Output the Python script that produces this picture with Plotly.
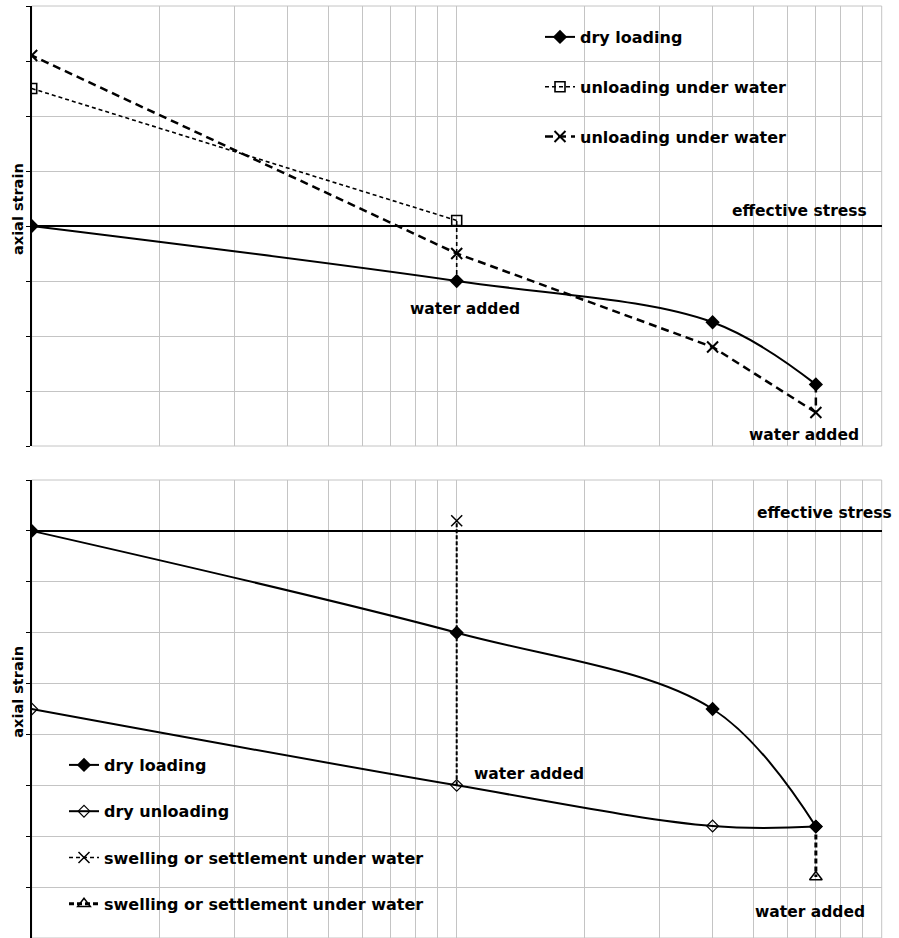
import plotly.graph_objects as go

# ---- data -------------------------------------------------------------
stress = [1, 10, 40, 70]

# upper panel
top_dry_loading = [0.0, -1.0, -1.75, -2.88]
top_sq_stress = [10, 1]
top_sq_strain = [0.1, 2.5]
top_x_stress = [70, 40, 10, 1]
top_x_strain = [-3.39, -2.2, -0.5, 3.1]

# lower panel
bot_dry_loading = [0.0, -2.0, -3.5, -5.81]
bot_unload_stress = [70, 40, 10, 1]
bot_dry_unloading = [-5.81, -5.8, -5.0, -3.5]
bot_swell_x_stress = [10]
bot_swell_x_strain = [0.2]
bot_swell_tri_stress = [70]
bot_swell_tri_strain = [-6.8]

x_grid = [1, 2, 3, 4, 5, 6, 7, 8, 9, 10, 20, 30, 40, 50, 60, 70, 80, 90, 100]

W, H = 899, 938
FONT = "DejaVu Sans"
GRID = "#c4c4c4"


def px_x(p):
    return p / W


def px_y(p):
    return 1 - p / H


fig = go.Figure()

# ---- upper panel traces ----------------------------------------------
fig.add_trace(go.Scatter(
    x=stress, y=top_dry_loading, name="dry loading", mode="lines+markers",
    line=dict(color="black", width=2, shape="spline", smoothing=1),
    marker=dict(symbol="diamond", size=11, color="black"),
    xaxis="x", yaxis="y", legend="legend", legendgroup="a1"))
fig.add_trace(go.Scatter(
    x=[stress[1], top_sq_stress[0]], y=[top_dry_loading[1], top_sq_strain[0]],
    mode="lines", line=dict(color="black", width=1.6, dash="4px,3px"),
    showlegend=False, xaxis="x", yaxis="y"))
fig.add_trace(go.Scatter(
    x=top_sq_stress, y=top_sq_strain, name="unloading under water",
    mode="lines+markers",
    line=dict(color="black", width=1.6, dash="4px,3px"),
    marker=dict(symbol="square-open", size=10, color="black",
                line=dict(width=1.6, color="black")),
    xaxis="x", yaxis="y", legend="legend", legendgroup="a2"))
fig.add_trace(go.Scatter(
    x=[stress[3], top_x_stress[0]], y=[top_dry_loading[3], top_x_strain[0]],
    mode="lines", line=dict(color="black", width=2.5, dash="8px,5px"),
    showlegend=False, xaxis="x", yaxis="y"))
fig.add_trace(go.Scatter(
    x=top_x_stress, y=top_x_strain, name="unloading under water",
    mode="lines+markers",
    line=dict(color="black", width=2.5, dash="8px,5px"),
    marker=dict(symbol="x-thin-open", size=11, color="black",
                line=dict(width=2, color="black")),
    xaxis="x", yaxis="y", legend="legend", legendgroup="a3"))

# ---- lower panel traces ----------------------------------------------
fig.add_trace(go.Scatter(
    x=stress, y=bot_dry_loading, name="dry loading", mode="lines+markers",
    line=dict(color="black", width=2, shape="spline", smoothing=1),
    marker=dict(symbol="diamond", size=11, color="black"),
    xaxis="x2", yaxis="y2", legend="legend2", legendgroup="b1"))
fig.add_trace(go.Scatter(
    x=bot_unload_stress, y=bot_dry_unloading, name="dry unloading",
    mode="lines+markers",
    line=dict(color="black", width=2, shape="spline", smoothing=1),
    marker=dict(symbol="diamond-open", size=9, color="black",
                line=dict(width=1.2, color="black")),
    xaxis="x2", yaxis="y2", legend="legend2", legendgroup="b2"))
fig.add_trace(go.Scatter(
    x=[stress[1], bot_swell_x_stress[0]], y=[bot_dry_unloading[2], bot_swell_x_strain[0]],
    mode="lines", line=dict(color="black", width=2, dash="4px,2px"),
    showlegend=False, xaxis="x2", yaxis="y2"))
fig.add_trace(go.Scatter(
    x=bot_swell_x_stress, y=bot_swell_x_strain,
    name="swelling or settlement under water", mode="lines+markers",
    line=dict(color="black", width=1.6, dash="4px,3px"),
    marker=dict(symbol="x-thin-open", size=11, color="black",
                line=dict(width=1.5, color="black")),
    xaxis="x2", yaxis="y2", legend="legend2", legendgroup="b3"))
fig.add_trace(go.Scatter(
    x=[stress[3], bot_swell_tri_stress[0]], y=[bot_dry_loading[3], bot_swell_tri_strain[0]],
    mode="lines", line=dict(color="black", width=3, dash="5px,3px"),
    showlegend=False, xaxis="x2", yaxis="y2"))
fig.add_trace(go.Scatter(
    x=bot_swell_tri_stress, y=bot_swell_tri_strain,
    name="swelling or settlement under water", mode="lines+markers",
    line=dict(color="black", width=3, dash="5px,3px"),
    marker=dict(symbol="triangle-up-open", size=11, color="black",
                line=dict(width=1.5, color="black")),
    xaxis="x2", yaxis="y2", legend="legend2", legendgroup="b4"))

# ---- axes --------------------------------------------------------------
x_dom = [px_x(31.7), px_x(881.7)]
xcommon = dict(type="log", range=[0, 2], domain=x_dom, tickvals=x_grid,
               showticklabels=False, ticks="", showgrid=True, gridcolor=GRID,
               gridwidth=1, showline=False, zeroline=False, fixedrange=True)
ycommon = dict(showticklabels=False, ticks="outside", ticklen=4,
               tickcolor="black", tickwidth=1, dtick=1, showgrid=True,
               gridcolor=GRID, gridwidth=1, showline=True, linecolor="black",
               linewidth=2, zeroline=True, zerolinecolor="black",
               zerolinewidth=2, fixedrange=True)

fig.update_layout(
    width=W, height=H, margin=dict(l=0, r=0, t=0, b=0),
    paper_bgcolor="white", plot_bgcolor="white",
    xaxis=dict(anchor="y", **xcommon),
    yaxis=dict(anchor="x", range=[-4, 4], tick0=0,
               domain=[px_y(446), px_y(6)], **ycommon),
    xaxis2=dict(anchor="y2", **xcommon),
    yaxis2=dict(anchor="x2", range=[-8, 1], tick0=0,
                domain=[0, px_y(480)], **ycommon),
    legend=dict(x=px_x(540), y=px_y(20), xanchor="left", yanchor="top",
                bgcolor="rgba(0,0,0,0)", tracegroupgap=26, itemwidth=30,
                font=dict(family=FONT, size=16, weight="bold", color="black")),
    legend2=dict(x=px_x(64), y=px_y(748), xanchor="left", yanchor="top",
                 bgcolor="rgba(0,0,0,0)", tracegroupgap=22.5, itemwidth=30,
                 font=dict(family=FONT, size=16, weight="bold", color="black")),
    showlegend=True,
)

# plot-area borders
for top_px, bot_px in [(6, 446), (480, 938)]:
    fig.add_shape(type="rect", xref="paper", yref="paper",
                  x0=x_dom[0], x1=x_dom[1], y0=px_y(bot_px), y1=px_y(top_px),
                  line=dict(color=GRID, width=1), layer="below")

lab = dict(family=FONT, size=15.5, weight="bold", color="black")


def label(text, xp, yp, anchor="center", angle=0, size=None):
    f = dict(lab)
    if size:
        f["size"] = size
    fig.add_annotation(text=text, xref="paper", yref="paper", x=px_x(xp),
                       y=px_y(yp), xanchor=anchor, yanchor="middle",
                       showarrow=False, font=f, textangle=angle)


label("effective stress", 869, 210.7, anchor="right")
label("water added", 465, 309)
label("water added", 803.5, 435)
label("axial strain", 18, 209, angle=-90, size=14.5)

label("effective stress", 894, 512.7, anchor="right")
label("water added", 529, 774.3)
label("water added", 810, 911.7)
label("axial strain", 18, 691.7, angle=-90, size=14.5)

fig.write_html("out.html")
